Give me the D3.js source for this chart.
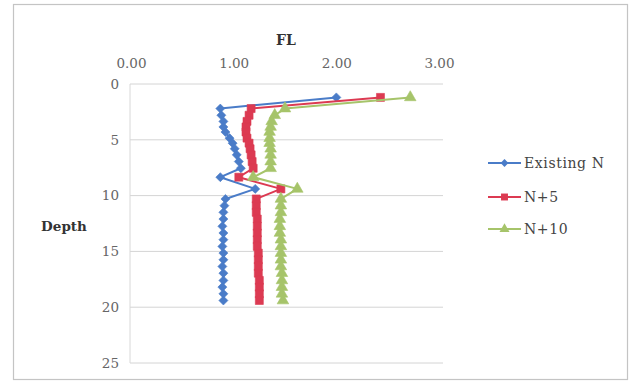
<!DOCTYPE html>
<html>
<head>
<meta charset="utf-8">
<script src="https://cdn.jsdelivr.net/npm/d3@7"></script>
<style>
  html, body { margin: 0; padding: 0; background: #fff; }
  svg { display: block; }
  text { font-family: "DejaVu Serif", "Liberation Serif", serif; }
</style>
</head>
<body>
<svg id="chart" width="630" height="383"></svg>
<script>
// Factor of safety against liquefaction (FL) with depth, for three SPT N cases
const depth = [1.2, 2.2, 2.8, 3.35, 3.85, 4.3, 4.85, 5.3, 5.8, 6.35, 6.95, 7.55, 8.35, 9.4,
  10.3, 10.9, 11.5, 12.1, 12.75, 13.35, 13.95, 14.55, 15.15, 15.75, 16.35, 16.95, 17.6, 18.2, 18.8, 19.4];
const flExisting = [2.0, 0.87, 0.88, 0.90, 0.90, 0.92, 0.96, 0.99, 1.01, 1.03, 1.05, 1.07, 0.87, 1.21,
  0.92, 0.91, 0.90, 0.90, 0.89, 0.90, 0.90, 0.89, 0.90, 0.90, 0.89, 0.90, 0.90, 0.89, 0.90, 0.90];
const flN5 = [2.43, 1.17, 1.15, 1.13, 1.12, 1.12, 1.13, 1.15, 1.16, 1.17, 1.18, 1.19, 1.05, 1.46,
  1.22, 1.22, 1.22, 1.23, 1.23, 1.23, 1.23, 1.23, 1.24, 1.24, 1.24, 1.24, 1.25, 1.25, 1.25, 1.25];
const flN10 = [2.72, 1.50, 1.40, 1.37, 1.36, 1.35, 1.35, 1.35, 1.36, 1.36, 1.36, 1.36, 1.19, 1.62,
  1.46, 1.46, 1.46, 1.45, 1.45, 1.45, 1.46, 1.46, 1.46, 1.46, 1.46, 1.47, 1.47, 1.47, 1.47, 1.48];
const seriesNames = ["Existing N", "N+5", "N+10"];
const xTicks = [0, 1, 2, 3];
const yTicks = [0, 5, 10, 15, 20, 25];

const colors = ["#4a7cc8", "#dc3a52", "#a6c46a"];
const symbols = [d3.symbolDiamond2, d3.symbolSquare, d3.symbolTriangle];
const symSizes = [52, 64, 58];

const svg = d3.select("#chart");

// outer chart border
svg.append("rect")
  .attr("x", 13.5).attr("y", 4.5).attr("width", 614).attr("height", 375)
  .attr("fill", "#fff").attr("stroke", "#c4c4c4").attr("stroke-width", 1.2);

const x = d3.scaleLinear().domain([0, 3]).range([131, 439]);
const y = d3.scaleLinear().domain([0, 25]).range([84, 363]);

// horizontal gridlines
svg.append("g").selectAll("line").data(yTicks).join("line")
  .attr("x1", 130).attr("x2", 443)
  .attr("y1", d => y(d)).attr("y2", d => y(d))
  .attr("stroke", "#d4d4d4").attr("stroke-width", 1);

// vertical axis line
svg.append("line")
  .attr("x1", 130).attr("x2", 130).attr("y1", y(0)).attr("y2", y(25))
  .attr("stroke", "#d8d8d8").attr("stroke-width", 1);

// top x axis labels
const xAxis = d3.axisTop(x).tickValues(xTicks).tickFormat(d3.format(".2f")).tickSize(0).tickPadding(0);
const gx = svg.append("g").attr("transform", "translate(0,68)").call(xAxis);
gx.select(".domain").remove();
gx.selectAll("text").attr("font-size", 13.5).attr("fill", "#666")
  .attr("font-family", "DejaVu Serif, serif");

// left y axis labels
const yAxis = d3.axisLeft(y).tickValues(yTicks).tickFormat(d3.format("d")).tickSize(0).tickPadding(0);
const gy = svg.append("g").attr("transform", "translate(119,0)").call(yAxis);
gy.select(".domain").remove();
gy.selectAll("text").attr("font-size", 13.5).attr("fill", "#666")
  .attr("font-family", "DejaVu Serif, serif");

// axis titles
svg.append("text").attr("x", 286).attr("y", 45).attr("text-anchor", "middle")
  .attr("font-size", 14).attr("font-weight", "bold").attr("fill", "#333").text("FL");
svg.append("text").attr("x", 64).attr("y", 231).attr("text-anchor", "middle")
  .attr("font-size", 13.5).attr("font-weight", "bold").attr("fill", "#333").text("Depth");

// series
const allSeries = [flExisting, flN5, flN10];
const line = d3.line().x(d => x(d[0])).y(d => y(d[1]));

allSeries.forEach((vals, i) => {
  const pts = vals.map((v, k) => [v, depth[k]]);
  const g = svg.append("g");
  g.append("path").datum(pts).attr("d", line)
    .attr("fill", "none").attr("stroke", colors[i]).attr("stroke-width", 2)
    .attr("stroke-linejoin", "round");
  g.selectAll("path.m").data(pts).join("path").attr("class", "m")
    .attr("transform", d => `translate(${x(d[0])},${y(d[1])})`)
    .attr("d", d3.symbol().type(symbols[i]).size(symSizes[i]))
    .attr("fill", colors[i]).attr("stroke", colors[i]).attr("stroke-width", 0.6);
});

// legend
const legend = svg.append("g");
const legY = [163, 197, 229];
seriesNames.forEach((name, i) => {
  legend.append("line").attr("x1", 488).attr("x2", 521).attr("y1", legY[i]).attr("y2", legY[i])
    .attr("stroke", colors[i]).attr("stroke-width", 2);
  legend.append("path").attr("transform", `translate(504.5,${legY[i]})`)
    .attr("d", d3.symbol().type(symbols[i]).size(symSizes[i] * 0.75))
    .attr("fill", colors[i]);
  legend.append("text").attr("x", 524).attr("y", legY[i] + 5)
    .attr("font-size", 14).attr("letter-spacing", 0.6).attr("fill", "#444").text(name);
});
</script>
</body>
</html>
